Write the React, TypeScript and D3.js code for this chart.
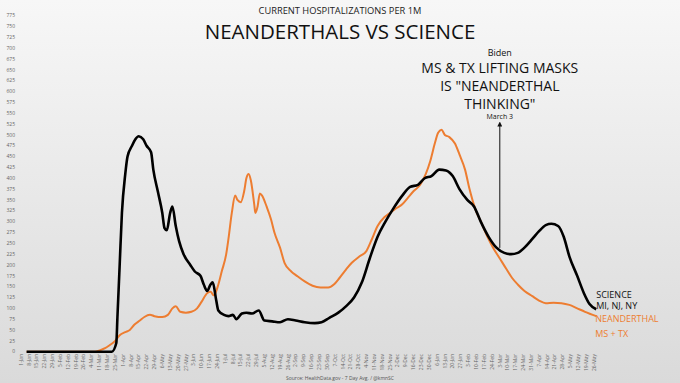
import React from "react";
import * as d3 from "d3";

const scienceDates = ["2020-01-06","2020-03-22","2020-03-26","2020-03-27","2020-03-29","2020-03-31","2020-04-03","2020-04-05","2020-04-09","2020-04-12","2020-04-15","2020-04-19","2020-04-22","2020-04-26","2020-04-28","2020-05-02","2020-05-06","2020-05-08","2020-05-10","2020-05-13","2020-05-15","2020-05-18","2020-05-21","2020-05-25","2020-05-31","2020-06-04","2020-06-09","2020-06-12","2020-06-15","2020-06-18","2020-06-20","2020-06-23","2020-06-25","2020-06-30","2020-07-04","2020-07-08","2020-07-11","2020-07-16","2020-07-20","2020-07-25","2020-07-31","2020-08-05","2020-08-12","2020-08-19","2020-08-26","2020-09-02","2020-09-10","2020-09-19","2020-09-25","2020-10-02","2020-10-10","2020-10-17","2020-10-24","2020-10-31","2020-11-07","2020-11-14","2020-11-21","2020-11-28","2020-12-06","2020-12-13","2020-12-20","2020-12-26","2021-01-01","2021-01-08","2021-01-14","2021-01-20","2021-01-26","2021-02-02","2021-02-08","2021-02-14","2021-02-21","2021-02-28","2021-03-07","2021-03-13","2021-03-19","2021-03-25","2021-04-01","2021-04-07","2021-04-13","2021-04-18","2021-04-24","2021-04-29","2021-05-04","2021-05-11","2021-05-17","2021-05-22","2021-05-28"];
const scienceValues = [0,0,20,80,200,320,410,450,475,490,497,490,475,460,420,370,320,285,280,320,335,290,255,225,200,185,175,155,140,155,160,120,95,85,82,85,75,88,90,88,95,72,70,68,75,72,68,66,68,78,90,105,125,160,215,265,300,330,360,380,385,400,405,420,418,405,375,350,335,300,265,240,228,225,228,240,260,278,292,295,290,265,220,175,135,110,98];

const neanderDates = ["2020-01-06","2020-03-07","2020-03-11","2020-03-16","2020-03-20","2020-03-25","2020-03-29","2020-04-03","2020-04-07","2020-04-11","2020-04-16","2020-04-20","2020-04-25","2020-04-29","2020-05-06","2020-05-11","2020-05-15","2020-05-18","2020-05-22","2020-05-27","2020-06-01","2020-06-06","2020-06-10","2020-06-15","2020-06-18","2020-06-21","2020-06-25","2020-06-28","2020-07-02","2020-07-04","2020-07-07","2020-07-10","2020-07-12","2020-07-15","2020-07-18","2020-07-20","2020-07-22","2020-07-24","2020-07-27","2020-07-28","2020-07-30","2020-08-01","2020-08-03","2020-08-07","2020-08-11","2020-08-14","2020-08-19","2020-08-23","2020-08-29","2020-09-03","2020-09-10","2020-09-17","2020-09-24","2020-10-01","2020-10-06","2020-10-11","2020-10-17","2020-10-22","2020-10-29","2020-11-04","2020-11-09","2020-11-14","2020-11-20","2020-11-25","2020-11-30","2020-12-06","2020-12-11","2020-12-16","2020-12-22","2020-12-27","2020-12-31","2021-01-04","2021-01-07","2021-01-10","2021-01-13","2021-01-17","2021-01-22","2021-01-26","2021-01-31","2021-02-04","2021-02-09","2021-02-15","2021-02-20","2021-02-25","2021-03-03","2021-03-09","2021-03-14","2021-03-19","2021-03-25","2021-04-01","2021-04-07","2021-04-13","2021-04-20","2021-04-27","2021-05-04","2021-05-11","2021-05-18","2021-05-28"];
const neanderValues = [0,0,3,8,15,25,38,45,50,62,72,80,85,82,80,85,100,105,92,90,92,100,115,135,138,130,155,185,225,260,320,360,350,345,370,400,410,395,340,320,335,365,360,335,305,275,240,205,185,175,162,152,148,148,155,170,190,205,220,232,260,290,310,320,330,340,355,370,385,410,440,480,505,512,500,495,480,455,420,375,330,295,265,240,215,190,170,155,140,128,118,112,113,112,108,100,92,82];

const yTicks = d3.range(0, 800, 25);
const tickStart = "2020-01-01";
const tickEnd = "2021-05-26";

const annotationDate = "2021-03-03";
const annotationLines = ["MS & TX LIFTING MASKS", "IS \"NEANDERTHAL", "THINKING\""];
const scienceLabels = ["SCIENCE", "MI, NJ, NY"];
const neanderLabels = ["NEANDERTHAL", "MS + TX"];

const W = 680, H = 383;
const FONT = "'Open Sans', 'DejaVu Sans', sans-serif";

export default function App() {
  const parse = d3.timeParse("%Y-%m-%d");
  const t0 = parse(tickStart)!;
  const t1 = parse(tickEnd)!;
  const x = d3.scaleTime().domain([t0, t1]).range([21, 594]);
  const y = d3.scaleLinear().domain([0, 775]).range([351.7, 15.7]);
  const weekly: Date[] = [];
  for (let d = t0; d <= t1; d = d3.timeDay.offset(d, 7)) weekly.push(d);
  const fmt = d3.timeFormat("%-d-%b");

  const science = scienceDates.map((d, i) => ({ d: parse(d)!, v: scienceValues[i] }));
  const neander = neanderDates.map((d, i) => ({ d: parse(d)!, v: neanderValues[i] }));
  const line = d3.line<{ d: Date; v: number }>()
    .x(p => x(p.d)).y(p => y(p.v)).curve(d3.curveMonotoneX);

  const annD = parse(annotationDate)!;
  const ax = x(annD);
  const scienceAt = (() => {
    const i = d3.bisector((p: { d: Date }) => p.d).left(science, annD);
    const a = science[i - 1], b = science[i];
    const f = (+annD - +a.d) / (+b.d - +a.d);
    return a.v + (b.v - a.v) * f;
  })();
  const lastS = science[science.length - 1];
  const lastN = neander[neander.length - 1];

  return (
    <svg width={W} height={H} style={{ position: "absolute", left: 0, top: 0 }} fontFamily={FONT}>
      <defs>
        <linearGradient id="bg" x1="0" y1="0" x2="0" y2="1">
          <stop offset="0" stopColor="#f7f7f7" />
          <stop offset="1" stopColor="#dadada" />
        </linearGradient>
        <marker id="arr" viewBox="0 0 6 6" refX="3" refY="3" markerWidth="5" markerHeight="5" orient="auto">
          <path d="M0,0 L6,3 L0,6 Z" fill="#111" />
        </marker>
      </defs>
      <rect width={W} height={H} fill="url(#bg)" />

      <text x={340} y={13.5} textAnchor="middle" fontSize={9.3} fill="#222">CURRENT HOSPITALIZATIONS PER 1M</text>
      <text x={340} y={38.5} textAnchor="middle" fontSize={20.5} fill="#111">NEANDERTHALS VS SCIENCE</text>

      {yTicks.map(t => (
        <text key={t} x={15} y={y(t) + 1.7} textAnchor="end" fontSize={5} fill="#666">{t}</text>
      ))}
      {weekly.map((d, i) => (
        <text key={i} transform={`translate(${x(d) + 1.7},${354}) rotate(-90)`} textAnchor="end" fontSize={5} fill="#666">{fmt(d)}</text>
      ))}

      <path d={line(neander) || ""} fill="none" stroke="#ED7D31" strokeWidth={2} strokeLinejoin="round" />
      <path d={line(science) || ""} fill="none" stroke="#000" strokeWidth={2.6} strokeLinejoin="round" />

      <line x1={ax} x2={ax} y1={y(scienceAt) - 2} y2={124} stroke="#111" strokeWidth={1} markerEnd="url(#arr)" />
      <text x={ax} y={56} textAnchor="middle" fontSize={9} fill="#111">Biden</text>
      {annotationLines.map((s, i) => (
        <text key={i} x={ax} y={73 + i * 18} textAnchor="middle" fontSize={14} fill="#111">{s}</text>
      ))}
      <text x={ax} y={119} textAnchor="middle" fontSize={7} fill="#111">March 3</text>

      {scienceLabels.map((s, i) => (
        <text key={s} x={x(lastS.d)} y={297.5 + i * 11.5} fontSize={9} fill="#111">{s}</text>
      ))}
      {neanderLabels.map((s, i) => (
        <text key={s} x={x(lastN.d) - 1} y={322 + i * 14.5} fontSize={9} fill="#ED7D31">{s}</text>
      ))}

      <text x={340} y={380} textAnchor="middle" fontSize={5} fill="#555">Source: HealthData.gov - 7 Day Avg. / @kmnSC</text>
    </svg>
  );
}
